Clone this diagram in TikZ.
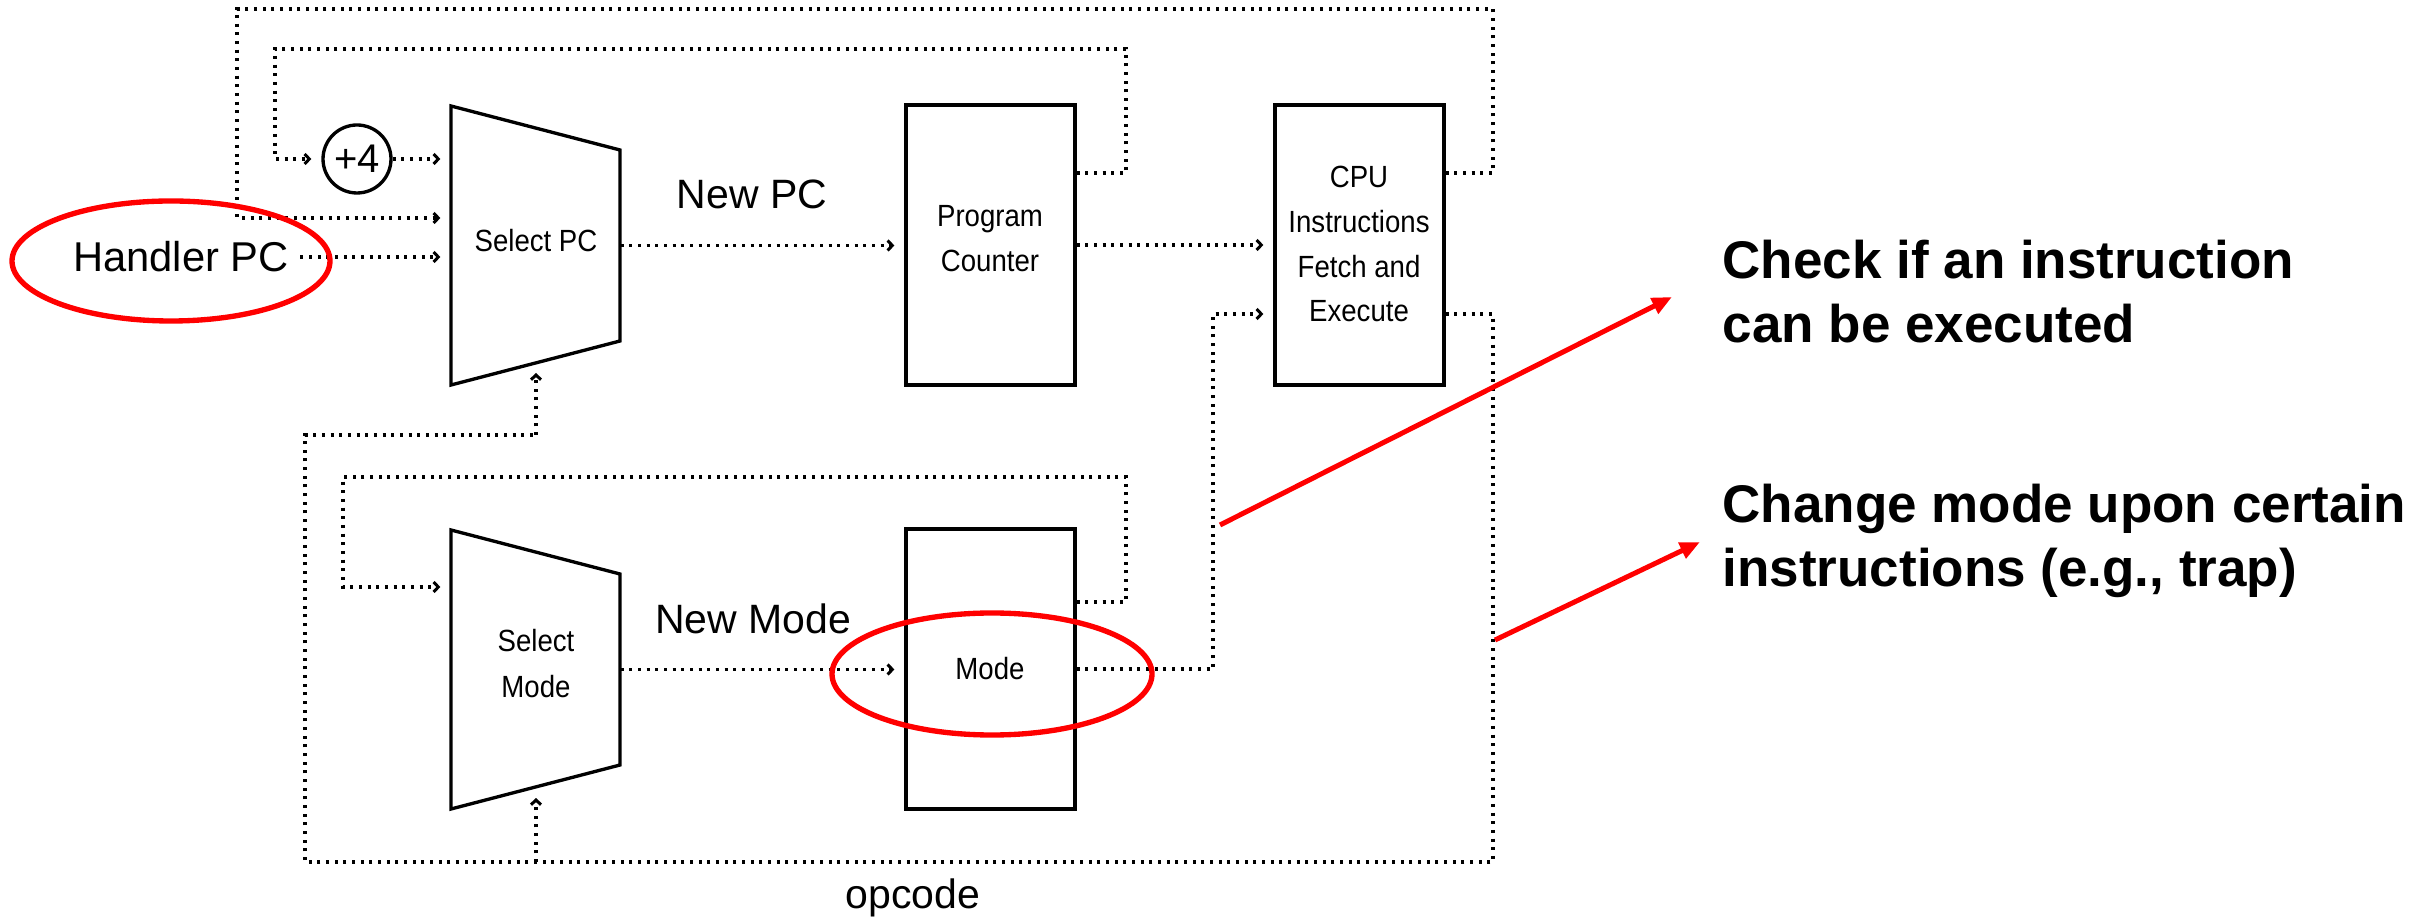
\documentclass[tikz,border=0pt]{standalone}
\usepackage{fontspec}
\setmainfont{Liberation Sans}
\newfontfamily\boxfont[FakeStretch=0.9]{Liberation Sans}
\usetikzlibrary{arrows.meta,calc}

\begin{document}
\begin{tikzpicture}[x=0.3pt,y=-0.3pt,
  wire/.style={line width=1pt, dash pattern=on 0.9pt off 1.7pt},
  flow/.style={wire, -{Straight Barb[length=1.4pt,width=3pt,line width=0.9pt]}, shorten >=3pt},
  solidline/.style={line width=1pt, line join=miter},
  blk/.style={draw, line width=1pt, minimum width=50.7pt, minimum height=84pt, inner sep=0pt},
  ghost/.style={inner sep=0pt, minimum width=50.7pt, minimum height=83.7pt},
  boxtxt/.style={font=\boxfont\fontsize{9.2}{10}\selectfont, anchor=base, inner sep=0pt},
  bigtxt/.style={font=\fontsize{12.3}{14}\selectfont, anchor=base, inner sep=0pt},
  note/.style={font=\bfseries\fontsize{15.9}{19}\selectfont, anchor=base west, inner sep=0pt},
  hl/.style={draw=red, line width=1.6pt},
  pointer/.style={red, line width=1.5pt, -{Triangle[length=6pt,width=5pt]}}
]
\useasboundingbox (0,0) rectangle (2430,918);

% ---- blocks ----
\node[ghost] (spc) at (535.5,245.5) {};
\draw[solidline] (451,106) -- (620,150) -- (620,341) -- (451,385) -- cycle;
\node[boxtxt] (spct) at (536,252) {Select PC};

\node[ghost] (smode) at (535.5,669.5) {};
\draw[solidline] (451,530) -- (620,574) -- (620,765) -- (451,809) -- cycle;
\node[boxtxt] (smt1) at (536,652) {Select};
\node[boxtxt] (smt2) at (536,698) {Mode};

\node[blk] (pcr) at (990.5,245) {};
\node[boxtxt] (pct1) at (990,227) {Program};
\node[boxtxt] (pct2) at (990,272) {Counter};

\node[blk] (cpu) at (1359.5,245) {};
\node[boxtxt] (cput1) at (1359,188) {CPU};
\node[boxtxt] (cput2) at (1359,233) {Instructions};
\node[boxtxt] (cput3) at (1359,278) {Fetch and};
\node[boxtxt] (cput4) at (1359,322) {Execute};

\node[blk] (mode) at (990.5,669) {};
\node[boxtxt] (modet) at (990,679) {Mode};

\node[draw, circle, line width=1pt, minimum size=20.4pt, inner sep=0pt,
      font=\fontsize{12}{13}\selectfont] (plus) at (357,159) {+4};

\node[font=\fontsize{12.5}{14}\selectfont] (handler) at (181,257) {Handler PC};

% ---- labels ----
\node[bigtxt] (lnewpc) at (752,209) {New PC};
\node[bigtxt] (lnewmode) at (753,634) {New Mode};
\node[bigtxt] (lopcode) at (913,908) {opcode};

% ---- outer loop: CPU -> Select PC ----
\coordinate (oa) at (1493,173);
\coordinate (ob) at (1493,9);
\coordinate (oc) at (237,9);
\coordinate (od) at (237,218);
\draw[flow] (cpu.east |- oa) -- (oa) -- (ob) -- (oc) -- (od) -- (od -| spc.west);

% ---- PC loop: PC -> +4 ----
\coordinate (pa) at (1126,173);
\coordinate (pb) at (1126,49);
\coordinate (pcc) at (275,49);
\coordinate (pd) at (275,159);
\draw[flow] (pcr.east |- pa) -- (pa) -- (pb) -- (pcc) -- (pd) -- (plus.west);
\draw[flow] (plus.east) -- (plus.east -| spc.west);

% ---- Handler PC ----
\draw[flow] (handler.east) -- (handler.east -| spc.west);

% ---- datapath ----
\draw[flow] (spc.east) -- (spc.east -| pcr.west);
\draw[flow] (pcr.east) -- (pcr.east -| cpu.west);

% ---- opcode feedback ----
\coordinate (ca) at (1493,314);
\coordinate (cb) at (1493,862);
\coordinate (cc) at (305,862);
\coordinate (cd) at (305,435);
\coordinate (ce) at (536,435);
\coordinate (cf) at (536,862);
\coordinate (spcbot) at (536,363);
\coordinate (smbot) at (536,788);
\draw[wire] (cpu.east |- ca) -- (ca) -- (cb) -- (cc) -- (cd) -- (ce);
\draw[flow] (ce) -- (spcbot);
\draw[flow] (cf) -- (smbot);

% ---- mode loop ----
\coordinate (ma) at (1126,602);
\coordinate (mb) at (1126,477);
\coordinate (mc) at (343,477);
\coordinate (md) at (343,587);
\draw[flow] (mode.east |- ma) -- (ma) -- (mb) -- (mc) -- (md) -- (md -| smode.west);
\draw[flow] (smode.east) -- (smode.east -| mode.west);

% ---- Mode -> CPU ----
\coordinate (ka) at (1213,669);
\coordinate (kb) at (1213,314);
\draw[flow] (mode.east) -- (ka) -- (kb) -- (kb -| cpu.west);

% ---- highlights ----
\draw[hl] (171,261) ellipse [x radius=47.7pt, y radius=18pt];
\draw[hl] (992,674) ellipse [x radius=48pt, y radius=18.3pt];

% ---- notes ----
\node[note] (n1a) at (1722,279) {Check if an instruction};
\node[note] (n1b) at (1722,343) {can be executed};
\node[note] (n2a) at (1722,523) {Change mode upon certain};
\node[note] (n2b) at (1722,587) {instructions (e.g., trap)};

\coordinate (r1s) at (1220,525);
\coordinate (r1e) at (1672,297);
\coordinate (r2s) at (1495,640);
\coordinate (r2e) at (1700,542);
\draw[pointer] (r1s) -- (r1e);
\draw[pointer] (r2s) -- (r2e);
\end{tikzpicture}
\end{document}
